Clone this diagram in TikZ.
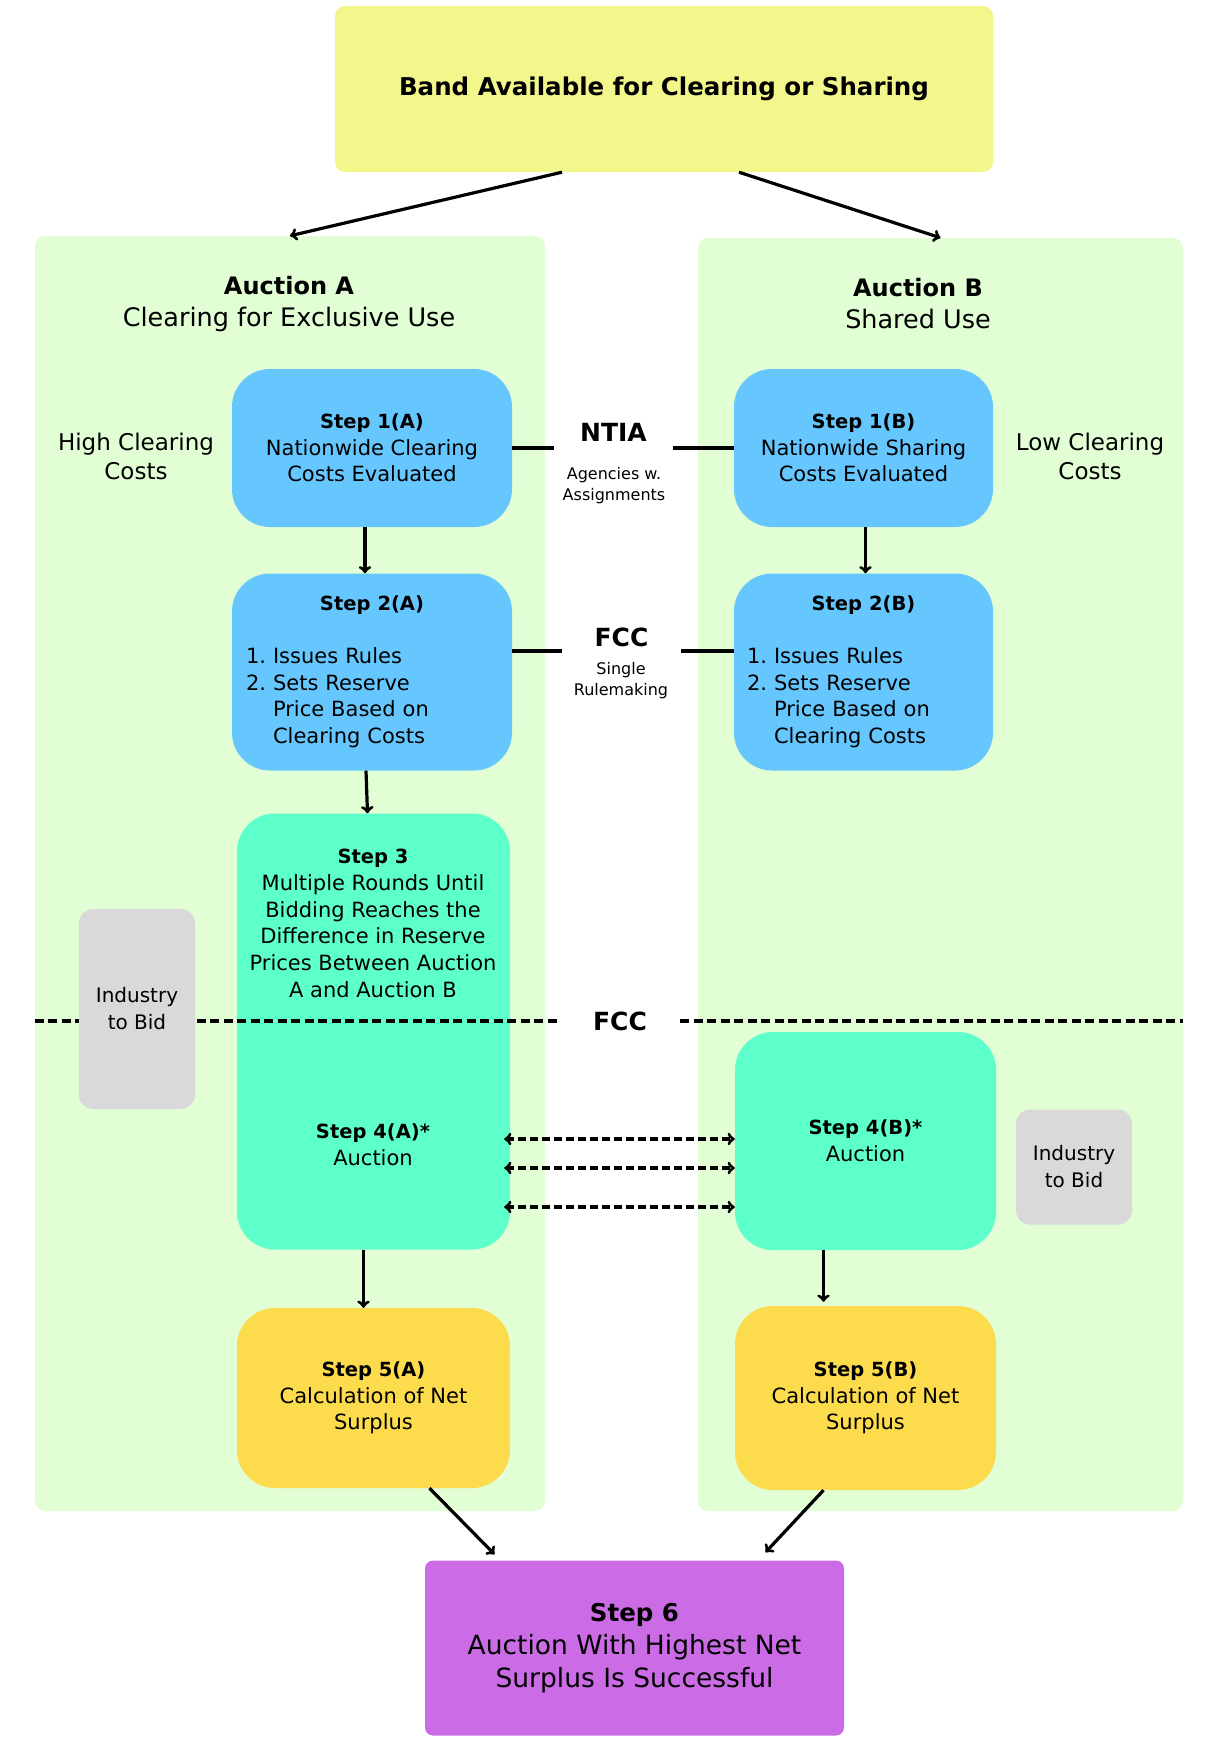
\documentclass[tikz,border=0pt]{standalone}
\usepackage{fontspec}
\setmainfont{DejaVu Sans}
\usetikzlibrary{shapes.geometric, arrows, positioning}
\definecolor{bandyellow}{HTML}{F3F68B}
\definecolor{panelgreen}{HTML}{E1FED4}
\definecolor{stepblue}{HTML}{66C7FF}
\definecolor{stepteal}{HTML}{5DFFCB}
\definecolor{stepgold}{HTML}{FCDB4C}
\definecolor{steppurple}{HTML}{CB6CE6}
\definecolor{bidgrey}{HTML}{D9D9D9}

\begin{document}
\begin{tikzpicture}[x=1pt, y=-1pt, >=to]
\tikzstyle{bandbox} = [rectangle, rounded corners=10pt, fill=bandyellow, inner sep=0pt, font=\fontsize{24.5}{30}\selectfont\bfseries]
\tikzstyle{panel} = [rectangle, rounded corners=10pt, fill=panelgreen, inner sep=0pt]
\tikzstyle{bluestep} = [rectangle, rounded corners=38pt, fill=stepblue, inner sep=0pt, align=center, font=\fontsize{21}{26.7}\selectfont]
\tikzstyle{tealstep} = [rectangle, rounded corners=38pt, fill=stepteal, inner sep=0pt, align=center, font=\fontsize{21}{26.7}\selectfont]
\tikzstyle{goldstep} = [rectangle, rounded corners=38pt, fill=stepgold, inner sep=0pt, align=center, font=\fontsize{21}{26.7}\selectfont]
\tikzstyle{finalstep} = [rectangle, rounded corners=8pt, fill=steppurple, inner sep=0pt, align=center, font=\fontsize{26.5}{33}\selectfont]
\tikzstyle{bidbox} = [rectangle, rounded corners=14pt, fill=bidgrey, inner sep=0pt, align=center, minimum width=116pt, font=\fontsize{20}{27}\selectfont]
\tikzstyle{steptext} = [align=center, font=\fontsize{21}{26.7}\selectfont]
\tikzstyle{heading} = [align=center, font=\fontsize{25.5}{32}\selectfont]
\tikzstyle{sidenote} = [align=center, font=\fontsize{23}{29}\selectfont]
\tikzstyle{agency} = [inner sep=0pt, font=\fontsize{25}{30}\selectfont\bfseries]
\tikzstyle{agencynote} = [align=center, font=\fontsize{16}{21}\selectfont]
\tikzstyle{link} = [line width=3.5pt]
\tikzstyle{flow} = [->, line width=3.2pt]
\tikzstyle{fccdash} = [line width=3.2pt, dash pattern=on 9pt off 4.5pt]
\tikzstyle{bidarrow} = [<->, line width=3.2pt, dash pattern=on 8pt off 4pt]

\useasboundingbox (0,0) rectangle (1210,1746);

% the two auctions
\node (panela) [panel, minimum width=510pt, minimum height=1275pt] at (290,873.5) {};
\node (panelb) [panel, minimum width=485pt, minimum height=1273pt] at (940.5,874.5) {};
\node (band) [bandbox, minimum width=658pt, minimum height=166pt] at (664,89) {Band Available for Clearing or Sharing};

\draw[flow] ([xshift=-102pt]band.south) -- (panela.north);
\draw[flow] ([xshift=75pt]band.south) -- (panelb.north);

\node (titlea) [heading] at (289,304) {{\fontsize{24}{32}\selectfont\bfseries Auction A}\\Clearing for Exclusive Use};
\node (titleb) [heading] at (918,304) {{\fontsize{24}{32}\selectfont\bfseries Auction B}\\Shared Use};
\node (higha) [sidenote] at (136,456) {High Clearing\\Costs};
\node (lowb) [sidenote] at (1090,456) {Low Clearing\\Costs};

% steps 1 and 2
\node (step1a) [bluestep, minimum width=280pt, minimum height=158pt] at (372,448) {\textbf{\fontsize{19.5}{26.7}\selectfont Step 1(A)}\\Nationwide Clearing\\Costs Evaluated};
\node (step1b) [bluestep, minimum width=259pt, minimum height=158pt] at (863.5,448) {\textbf{\fontsize{19.5}{26.7}\selectfont Step 1(B)}\\Nationwide Sharing\\Costs Evaluated};
\node (step2a) [bluestep, align=left, text width=252pt, minimum width=280pt, minimum height=197pt] at (372,672) {\hfill\textbf{\fontsize{19.5}{26.7}\selectfont Step 2(A)}\hfill\null\\[26pt]1.\ Issues Rules\\2.\ Sets Reserve\\\phantom{2.\ }Price Based on\\\phantom{2.\ }Clearing Costs};
\node (step2b) [bluestep, align=left, text width=233pt, minimum width=259pt, minimum height=197pt] at (863.5,672) {\hfill\textbf{\fontsize{19.5}{26.7}\selectfont Step 2(B)}\hfill\null\\[26pt]1.\ Issues Rules\\2.\ Sets Reserve\\\phantom{2.\ }Price Based on\\\phantom{2.\ }Clearing Costs};

\node (ntia) [agency, minimum width=119pt] at (613.5,432) {NTIA};
\node (ntianote) [agencynote] at (614,486) {Agencies w.\\Assignments};
\node (fccrule) [agency, minimum width=118pt] at (621.5,637) {FCC};
\node (fccnote) [agencynote] at (621,681) {Single\\Rulemaking};

\draw[link] (step1a.east) -- (step1a.east -| ntia.west);
\draw[link] (step1b.west) -- (step1b.west -| ntia.east);
\draw[link] ([yshift=21pt]step2a.east) -- ([yshift=21pt]step2a.east -| fccrule.west);
\draw[link] ([yshift=21pt]step2b.west) -- ([yshift=21pt]step2b.west -| fccrule.east);

% steps 3 to 5
\node (step34a) [tealstep, minimum width=273pt, minimum height=436pt] at (373.5,1031.5) {};
\node (step4b) [tealstep, minimum width=261pt, minimum height=218pt] at (865.5,1141) {\textbf{\fontsize{19.5}{26.7}\selectfont Step 4(B)*}\\Auction};
\node (step5a) [goldstep, minimum width=273pt, minimum height=180pt] at (373.5,1398) {\textbf{\fontsize{19.5}{26.7}\selectfont Step 5(A)}\\Calculation of Net\\Surplus};
\node (step5b) [goldstep, minimum width=261pt, minimum height=184pt] at (865.5,1398) {\textbf{\fontsize{19.5}{26.7}\selectfont Step 5(B)}\\Calculation of Net\\Surplus};
\node (step6) [finalstep, minimum width=419pt, minimum height=175pt] at (634.5,1648) {{\fontsize{24.5}{33}\selectfont\bfseries Step 6}\\Auction With Highest Net\\Surplus Is Successful};

\node (step3) [steptext] at (373,923.5) {\textbf{\fontsize{19.5}{26.7}\selectfont Step 3}\\Multiple Rounds Until\\Bidding Reaches the\\Difference in Reserve\\Prices Between Auction\\A and Auction B};
\node (step4a) [steptext] at (373,1145) {\textbf{\fontsize{19.5}{26.7}\selectfont Step 4(A)*}\\Auction};

\draw[flow] ([xshift=-7pt]step1a.south) -- ([xshift=-7pt]step2a.north);
\draw[flow] ([xshift=2pt]step1b.south) -- ([xshift=2pt]step2b.north);
\draw[flow] ([xshift=-6pt]step2a.south) -- ([xshift=-6pt]step34a.north);
\draw[flow] ([xshift=-10pt]step34a.south) -- ([xshift=-10pt]step5a.north);
\draw[flow] ([xshift=-42pt]step4b.south) -- ([xshift=-42pt, yshift=4pt]step5b.north);
\draw[flow] ([xshift=56pt]step5a.south) -- ([xshift=-140pt, yshift=6pt]step6.north);
\draw[flow] ([xshift=-42pt]step5b.south) -- ([xshift=131pt, yshift=8pt]step6.north);

% FCC auction line
\node (fccline) [agency, minimum width=120pt] at (620,1021) {FCC};
\draw[fccdash] (panela.west |- fccline) -- (fccline.west);
\draw[fccdash] (fccline.east) -- (panelb.east |- fccline);

\node (bida) [bidbox, minimum height=200pt] at (137,1009) {Industry\\to Bid};
\node (bidb) [bidbox, minimum height=115pt] at (1074,1167) {Industry\\to Bid};

\foreach \dy in {107.5,136.5,175.5}
  \draw[bidarrow] ([yshift=-\dy pt, xshift=-6pt]step34a.east) -- ([yshift=-\dy pt]step34a.east -| step4b.west);

\end{tikzpicture}
\end{document}
